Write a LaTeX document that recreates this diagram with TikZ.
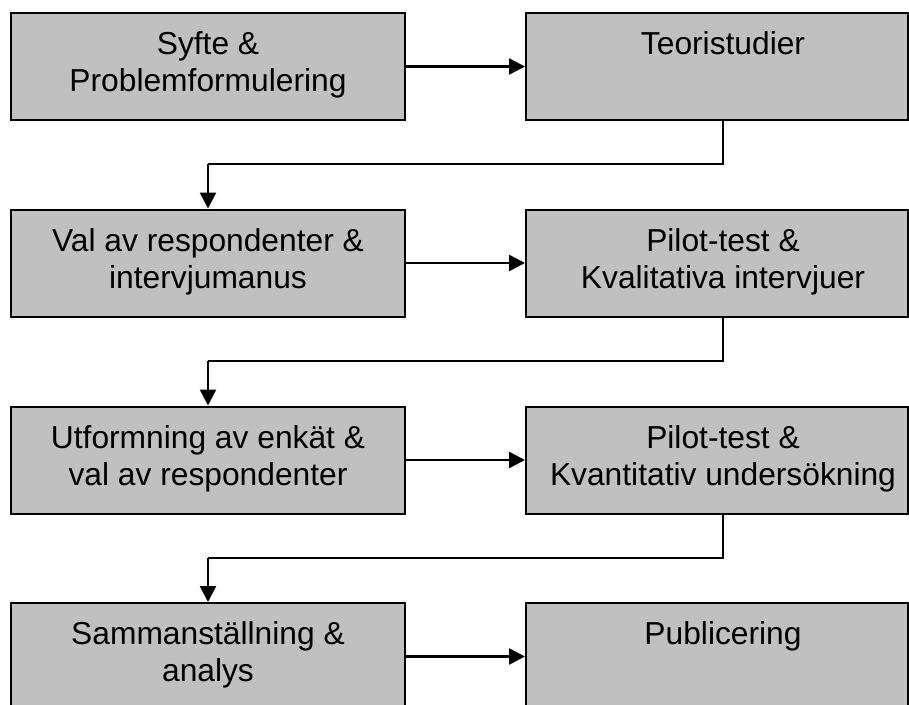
\documentclass[tikz,border=0pt]{standalone}
\usepackage{fontspec}
\setmainfont{Liberation Sans}
\usetikzlibrary{arrows.meta}
\definecolor{boxgray}{HTML}{C0C0C0}
\begin{document}
\begin{tikzpicture}[x=1pt,y=-1pt,
  stepbox/.style={draw=black, line width=2pt, fill=boxgray,
    minimum width=394pt, minimum height=107pt, inner sep=0pt},
  rightbox/.style={stepbox, minimum width=382pt},
  steptext/.style={anchor=north, align=center, inner sep=0pt,
    font=\fontsize{31.75}{37}\selectfont},
  flow/.style={line width=2.5pt, -{Triangle[length=16pt,width=16pt]}},
  turn/.style={line width=2.5pt}]
\useasboundingbox (0,0) rectangle (909,704);
\clip (0,0) rectangle (909,704);

% boxes, two columns, four rows
\node[stepbox]  (b1) at (208,66.5) {};
\node[rightbox] (b2) at (717,66.5) {};
\node[stepbox]  (b3) at (208,263) {};
\node[rightbox] (b4) at (717,263) {};
\node[stepbox]  (b5) at (208,460) {};
\node[rightbox] (b6) at (717,460) {};
\node[stepbox]  (b7) at (208,656.5) {};
\node[rightbox] (b8) at (717,656.5) {};

% box texts, top aligned
\node[steptext] (t1) at (208,28.4)  {\strut Syfte \&\\Problemformulering};
\node[steptext] (t2) at (723,28.4)  {\strut Teoristudier};
\node[steptext] (t3) at (208,225.4) {\strut Val av respondenter \&\\intervjumanus};
\node[steptext] (t4) at (723,225.4) {\strut Pilot-test \&\\Kvalitativa intervjuer};
\node[steptext] (t5) at (208,422.4) {\strut Utformning av enkät \&\\val av respondenter};
\node[steptext] (t6) at (723,422.4) {\strut Pilot-test \&\\Kvantitativ undersökning};
\node[steptext] (t7) at (208,618.4) {\strut Sammanställning \&\\analys};
\node[steptext] (t8) at (723,618.4) {\strut Publicering};

% turning points of the row-to-row connectors
\coordinate (c1) at (723,164);
\coordinate (c2) at (723,361);
\coordinate (c3) at (723,558);

% horizontal steps
\draw[flow] (b1.east) -- (b2.west);
\draw[flow] (b3.east) -- (b4.west);
\draw[flow] (b5.east) -- (b6.west);
\draw[flow] (b7.east) -- (b8.west);

% row-to-row steps
\draw[turn] (b2.south -| c1) -- (c1) -- (c1 -| b3.north);
\draw[flow] (c1 -| b3.north) -- (b3.north);
\draw[turn] (b4.south -| c2) -- (c2) -- (c2 -| b5.north);
\draw[flow] (c2 -| b5.north) -- (b5.north);
\draw[turn] (b6.south -| c3) -- (c3) -- (c3 -| b7.north);
\draw[flow] (c3 -| b7.north) -- (b7.north);
\end{tikzpicture}
\end{document}
